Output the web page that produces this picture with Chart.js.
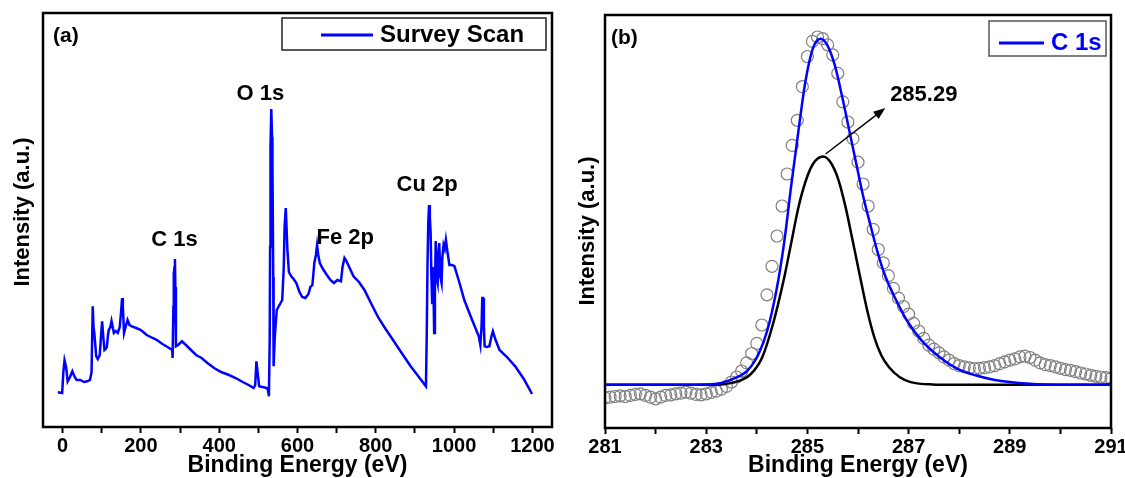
<!DOCTYPE html>
<html>
<head>
<meta charset="utf-8">
<script src="https://cdn.jsdelivr.net/npm/chart.js@4"></script>
<style>
  body { margin: 0; background: #fff; }
  canvas { position: absolute; top: 0; }
  #surveyChart { left: 0; }
  #c1sChart { left: 565px; }
</style>
</head>
<body>
<canvas id="surveyChart" width="565" height="478"></canvas>
<canvas id="c1sChart" width="560" height="478"></canvas>
<script>
  // (a) survey scan (intensity in arbitrary units)
  const surveyEnergy = [-12, -1, 2, 5, 9, 13, 19, 25, 31, 36, 45, 55, 63, 70, 74, 77, 79, 81, 84, 86,
    90, 95, 98, 101, 104, 107, 110, 113, 116, 118, 122, 125, 128, 131, 136, 141, 146, 150, 152, 154,
    157, 161, 166, 171, 177, 188, 200, 215, 230, 241, 255, 268, 280, 281, 283, 284, 286, 287, 288, 289.5,
    295, 305, 315, 328, 341, 355, 370, 387, 405, 425, 442, 460, 475, 488, 492, 495, 498, 502, 510, 522,
    525, 527, 529, 530, 531, 533, 535, 536, 538, 539, 542, 547, 554, 561, 565, 567, 570, 572, 574, 578,
    584, 590, 597, 605, 612, 620, 628, 633, 638, 641, 643, 647, 650, 653, 657, 665, 675, 684, 693, 702,
    711, 715, 720, 725, 732, 743, 757, 771, 790, 807, 825, 844, 866, 889, 910, 928, 930, 932, 934, 936,
    938, 940, 942, 944, 946, 948, 949, 951, 953, 955, 958, 960, 962, 965, 968, 970, 973, 976, 979, 983,
    988, 995, 1001, 1013, 1026, 1045, 1063, 1067, 1070, 1072, 1074, 1076, 1078, 1084, 1090, 1095, 1099, 1105, 1116, 1135,
    1156, 1178, 1199];
  const surveyIntensity = [34.7, 34, 55, 66.7, 60, 45.7, 50, 55.7, 50, 47, 47, 45, 45.7, 47, 55, 120.7, 100, 94, 80, 70.7,
    68, 72, 90, 105.7, 90, 77, 78, 80, 92, 97, 100, 106, 100, 94, 96, 94, 100, 118, 129, 120,
    94, 100, 107, 102, 100.7, 99, 97, 92, 89, 87, 83, 80, 77, 69, 120, 154, 160, 168, 140, 80.7,
    82, 85.7, 82, 77, 72, 69, 64, 59, 55, 52, 49, 45, 42, 39, 42, 65.7, 55, 40.7, 40, 39,
    36, 30.7, 87, 180, 279, 318, 290, 264, 150, 60.7, 90, 117, 122, 127, 160.7, 200, 219, 200, 179, 155,
    150.7, 148, 144, 135, 130, 129, 133, 140, 142, 155, 164, 172, 182, 172, 164, 158, 152, 147, 144, 147,
    145.7, 160, 169, 166, 160, 150.7, 145, 137, 122, 109, 98, 87, 74, 60.7, 50, 40.7, 90, 160.7, 205, 222,
    210, 194, 150, 124, 160, 120, 94, 140, 186, 150, 144, 175, 184, 150, 144, 170, 182, 178, 187, 175,
    162, 162, 160.7, 145, 127, 108, 90.7, 82, 100, 129, 129, 100, 80.7, 80, 80.7, 90, 95.7, 88, 77, 70,
    60.7, 48, 33];
  const surveyTicks = [0, 100, 200, 300, 400, 500, 600, 700, 800, 900, 1000, 1100, 1200];
  const surveyTickLabels = ['0', '', '200', '', '400', '', '600', '', '800', '', '1000', '', '1200'];

  // (b) C 1s high resolution: measured points, envelope fit and fitted component
  const c1sEnergy = [281.0, 281.1, 281.2, 281.3, 281.4, 281.5, 281.6, 281.7, 281.8, 281.9,
    282.0, 282.1, 282.2, 282.3, 282.4, 282.5, 282.6, 282.7, 282.8, 282.9,
    283.0, 283.1, 283.2, 283.3, 283.4, 283.5, 283.6, 283.7, 283.8, 283.9,
    284.0, 284.1, 284.2, 284.3, 284.4, 284.5, 284.6, 284.7, 284.8, 284.9,
    285.0, 285.1, 285.2, 285.3, 285.4, 285.5, 285.6, 285.7, 285.8, 285.9,
    286.0, 286.1, 286.2, 286.3, 286.4, 286.5, 286.6, 286.7, 286.8, 286.9,
    287.0, 287.1, 287.2, 287.3, 287.4, 287.5, 287.6, 287.7, 287.8, 287.9,
    288.0, 288.1, 288.2, 288.3, 288.4, 288.5, 288.6, 288.7, 288.8, 288.9,
    289.0, 289.1, 289.2, 289.3, 289.4, 289.5, 289.6, 289.7, 289.8, 289.9,
    290.0, 290.1, 290.2, 290.3, 290.4, 290.5, 290.6, 290.7, 290.8, 290.9, 291.0];
  const c1sRaw = [30.2, 30.9, 31.5, 32.2, 31.5, 32.6, 33.6, 34.2, 32.6, 30.9,
    29.2, 30.9, 32.6, 33.2, 34.2, 34.9, 35.9, 34.9, 33.6, 33.2,
    34.2, 35.6, 36.9, 38.9, 41.6, 46.0, 51.0, 57.0, 65.1, 74.5,
    84.6, 103, 133.2, 161.7, 192, 222, 254, 282.6, 307.7, 341.3,
    371.5, 386.6, 391, 389.3, 383.2, 373.2, 354.7, 326.2, 306, 289.3,
    265.8, 244, 222, 198.7, 178.5, 165.1, 152.3, 139.6, 129.9, 121.5,
    113.8, 104.7, 97, 89.6, 82.9, 78.9, 75.2, 71.1, 67.8, 64.4,
    62.4, 61.1, 60.1, 59.4, 59.7, 60.4, 61.1, 62.4, 64.4, 66.1,
    67.8, 69.1, 71.1, 71.8, 70.5, 67.8, 65.1, 63.4, 62.4, 61.1,
    59.7, 58.4, 57.7, 56.4, 55, 54, 52.7, 51.7, 51, 50.3, 49.7];
  const fitEnergy = [281.0, 282.0, 283.0, 283.3, 283.54, 283.82, 284.04, 284.21, 284.39, 284.54,
    284.68, 284.82, 284.96, 285.11, 285.26, 285.39, 285.54, 285.68, 285.82, 285.96,
    286.1, 286.25, 286.39, 286.54, 286.75, 286.96, 287.25, 287.61, 287.96, 288.32,
    288.68, 289.39, 290.11, 291.0];
  const fitEnvelope = [43.3, 43.3, 43.6, 45, 49.3, 57.7, 74.5, 98, 138.3, 185.2,
    242.3, 296, 346.3, 379.9, 389.3, 383.2, 363.1, 332.9, 299.3, 265.8,
    232.2, 202, 175.2, 151.7, 128.2, 108, 87.9, 71.1, 59.4, 52.7,
    48.3, 44.3, 43.3, 43.3];
  const compEnergy = [281.0, 283.0, 283.68, 283.89, 284.11, 284.32, 284.54, 284.68, 284.82, 284.96,
    285.11, 285.31, 285.46, 285.61, 285.75, 285.89, 286.04, 286.18, 286.32, 286.46,
    286.61, 286.82, 287.04, 287.46, 288.0, 291.0];
  const compPeak = [43.3, 43.3, 47.6, 54.3, 71.1, 104, 150, 185, 220, 246,
    264, 271.5, 265.5, 248.7, 221.9, 188.4, 151.5, 118, 91.2, 72.7,
    61, 51, 45.9, 43.6, 43.3, 43.3];
  const c1sTicks = [281, 282, 283, 284, 285, 286, 287, 288, 289, 290, 291];
  const c1sTickLabels = ['281', '', '283', '', '285', '', '287', '', '289', '', '291'];

  const FONT = '"Liberation Sans", Arial, sans-serif';
  Chart.defaults.font.family = FONT;
  Chart.defaults.color = '#000';

  function toXY(xs, ys) {
    return xs.map((x, i) => ({ x: x, y: ys[i] }));
  }

  // frame, y title, legend box, labels and arrow
  const extras = {
    id: 'extras',
    afterDatasetsDraw(chart, args, opts) {
      const ctx = chart.ctx;
      const a = chart.chartArea;
      const xs = chart.scales.x, ys = chart.scales.y;
      ctx.save();
      ctx.strokeStyle = '#000';
      ctx.lineWidth = 2.5;
      ctx.strokeRect(a.left, a.top, a.right - a.left, a.bottom - a.top);

      ctx.textBaseline = 'middle';
      ctx.fillStyle = '#000';

      // y axis title
      ctx.save();
      ctx.translate(23, opts.yTitleY);
      ctx.rotate(-Math.PI / 2);
      ctx.font = 'bold 22px ' + FONT;
      ctx.textAlign = 'center';
      ctx.fillText('Intensity (a.u.)', 0, 0);
      ctx.restore();

      ctx.font = 'bold 21px ' + FONT;
      ctx.textAlign = 'left';
      ctx.fillText(opts.tag, a.left + opts.tagDx, a.top + 23);

      (opts.texts || []).forEach(t => {
        ctx.font = 'bold ' + t.size + 'px ' + FONT;
        ctx.textAlign = 'center';
        ctx.fillStyle = '#000';
        ctx.fillText(t.text, xs.getPixelForValue(t.x), ys.getPixelForValue(t.y));
      });

      if (opts.arrow) {
        const x1 = xs.getPixelForValue(opts.arrow.from[0]), y1 = ys.getPixelForValue(opts.arrow.from[1]);
        const x2 = xs.getPixelForValue(opts.arrow.to[0]), y2 = ys.getPixelForValue(opts.arrow.to[1]);
        const ang = Math.atan2(y2 - y1, x2 - x1);
        ctx.strokeStyle = '#000';
        ctx.lineWidth = 1.5;
        ctx.beginPath();
        ctx.moveTo(x1, y1);
        ctx.lineTo(x2 - 8 * Math.cos(ang), y2 - 8 * Math.sin(ang));
        ctx.stroke();
        ctx.beginPath();
        ctx.moveTo(x2, y2);
        ctx.lineTo(x2 - 12 * Math.cos(ang) + 4.5 * Math.sin(ang), y2 - 12 * Math.sin(ang) - 4.5 * Math.cos(ang));
        ctx.lineTo(x2 - 12 * Math.cos(ang) - 4.5 * Math.sin(ang), y2 - 12 * Math.sin(ang) + 4.5 * Math.cos(ang));
        ctx.closePath();
        ctx.fill();
      }

      const L = opts.legend;
      ctx.strokeStyle = L.border;
      ctx.lineWidth = 1.5;
      ctx.strokeRect(L.box[0], L.box[1], L.box[2] - L.box[0], L.box[3] - L.box[1]);
      ctx.strokeStyle = L.color;
      ctx.lineWidth = 3;
      ctx.beginPath();
      ctx.moveTo(L.line[0], L.line[2]);
      ctx.lineTo(L.line[1], L.line[2]);
      ctx.stroke();
      ctx.font = 'bold ' + L.size + 'px ' + FONT;
      ctx.textAlign = 'left';
      ctx.fillStyle = L.textColor;
      ctx.fillText(L.text, L.line[1] + 7, L.line[2]);
      ctx.restore();
    }
  };

  function makeScales(xMin, xMax, yMax, ticks, labels, yWidth, xHeight) {
    return {
      x: {
        type: 'linear',
        min: xMin,
        max: xMax,
        afterBuildTicks: s => { s.ticks = ticks.map(v => ({ value: v })); },
        afterFit: s => { s.height = xHeight; s.paddingLeft = 0; s.paddingRight = 0; },
        grid: { drawOnChartArea: false, tickLength: 6, tickWidth: 2, tickColor: '#000' },
        border: { display: false },
        ticks: {
          callback: (v, i) => labels[i],
          color: '#000',
          font: { size: 20, weight: 'bold' },
          padding: 1,
          maxRotation: 0,
          autoSkip: false
        },
        title: {
          display: true,
          text: 'Binding Energy (eV)',
          color: '#000',
          font: { size: 23, weight: 'bold' },
          padding: { top: 0, bottom: -1 }
        }
      },
      y: {
        type: 'linear',
        min: 0,
        max: yMax,
        afterFit: s => { s.width = yWidth; },
        grid: { display: false },
        border: { display: false },
        ticks: { display: false }
      }
    };
  }

  new Chart(document.getElementById('surveyChart'), {
    type: 'line',
    data: {
      datasets: [{
        label: 'Survey Scan',
        data: toXY(surveyEnergy, surveyIntensity),
        borderColor: '#0000ff',
        borderWidth: 2.5,
        pointRadius: 0,
        tension: 0
      }]
    },
    options: {
      responsive: false,
      animation: false,
      devicePixelRatio: 1,
      layout: { padding: { left: 0, top: 13, right: 13, bottom: 0 } },
      scales: makeScales(-50, 1250, 414, surveyTicks, surveyTickLabels, 43, 51),
      plugins: {
        legend: { display: false },
        tooltip: { enabled: false },
        extras: {
          tag: '(a)',
          tagDx: 10,
          yTitleY: 212,
          texts: [
            { text: 'O 1s', x: 505, y: 333, size: 22 },
            { text: 'C 1s', x: 286, y: 187, size: 22 },
            { text: 'Fe 2p', x: 722, y: 189, size: 22 },
            { text: 'Cu 2p', x: 931, y: 242, size: 22 }
          ],
          legend: {
            box: [282, 18, 546, 50], line: [321, 373, 35], border: '#222',
            color: '#0000ff', text: 'Survey Scan', textColor: '#000', size: 24
          }
        }
      }
    },
    plugins: [extras]
  });

  new Chart(document.getElementById('c1sChart'), {
    type: 'line',
    data: {
      datasets: [
        {
          label: 'C 1s',
          data: toXY(fitEnergy, fitEnvelope),
          borderColor: '#0000ff',
          borderWidth: 2.5,
          pointRadius: 0,
          cubicInterpolationMode: 'monotone',
          order: 1
        },
        {
          label: 'Peak',
          data: toXY(compEnergy, compPeak),
          borderColor: '#000',
          borderWidth: 2.5,
          pointRadius: 0,
          cubicInterpolationMode: 'monotone',
          order: 2
        },
        {
          label: 'Raw',
          data: toXY(c1sEnergy, c1sRaw),
          showLine: false,
          pointRadius: 6,
          pointBorderWidth: 1.2,
          pointBorderColor: '#808080',
          pointBackgroundColor: 'rgba(255,255,255,0)',
          order: 3
        }
      ]
    },
    options: {
      responsive: false,
      animation: false,
      devicePixelRatio: 1,
      layout: { padding: { left: 0, top: 15, right: 14, bottom: 0 } },
      scales: makeScales(281, 291, 413, c1sTicks, c1sTickLabels, 40, 50),
      plugins: {
        legend: { display: false },
        tooltip: { enabled: false },
        extras: {
          tag: '(b)',
          tagDx: 6,
          yTitleY: 231,
          texts: [{ text: '285.29', x: 287.3, y: 333, size: 22 }],
          arrow: { from: [285.36, 274], to: [286.54, 320] },
          legend: {
            box: [424, 21, 541, 56], line: [434, 479, 43], border: '#555',
            color: '#0000ff', text: 'C 1s', textColor: '#0000ff', size: 24
          }
        }
      }
    },
    plugins: [extras]
  });
</script>
</body>
</html>
